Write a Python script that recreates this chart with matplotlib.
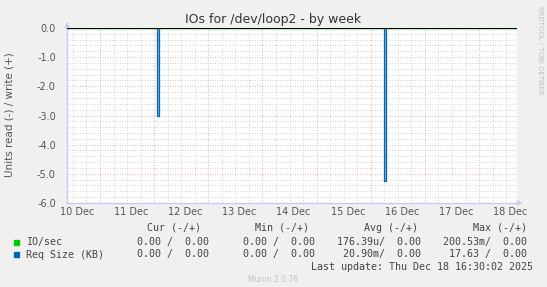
import numpy as np
import matplotlib
matplotlib.use("Agg")
import matplotlib.pyplot as plt

# time axis in days since 10 Dec 00:00
x_start, x_end = 0.39, 8.70
day_labels = ["10 Dec", "11 Dec", "12 Dec", "13 Dec", "14 Dec", "15 Dec", "16 Dec", "17 Dec", "18 Dec"]
y_ticks = [0.0, -1.0, -2.0, -3.0, -4.0, -5.0, -6.0]

# read side of Req Size (KB): short dips, zero elsewhere
spike_start = [2.06, 6.25]
spike_width = 0.035
spike_value = [-3.03, -5.26]

# IO/sec stays at zero over the week
io_times = [x_start, x_end]
io_values = [0.0, 0.0]

legend_names = ["IO/sec", "Req Size (KB)"]
legend_colors = ["#00cc00", "#0066b3"]
legend_headers = ["Cur (-/+)", "Min (-/+)", "Avg (-/+)", "Max (-/+)"]
legend_values = [
    ["0.00 /  0.00", "0.00 /  0.00", "176.39u/  0.00", "200.53m/  0.00"],
    ["0.00 /  0.00", "0.00 /  0.00", "20.90m/  0.00", "17.63 /  0.00"],
]
last_update = "Last update: Thu Dec 18 16:30:02 2025"

W, H = 547, 287
fig = plt.figure(figsize=(W / 100, H / 100), dpi=100, facecolor="#f0f0f0")
ax = fig.add_axes((67 / W, (H - 203) / H, 450 / W, 175 / H))
ax.set_facecolor("white")

# build step series for the req size line
t = [x_start]
v = [0.0]
for s, val in zip(spike_start, spike_value):
    t += [s, s, s + spike_width, s + spike_width]
    v += [0.0, val, val, 0.0]
t.append(x_end)
v.append(0.0)
t = np.array(t)
v = np.array(v)

ax.fill_between(t, v, 0, color="#8cbde6", lw=0, zorder=3)
ax.plot(t, v, color=legend_colors[1], lw=0.9, zorder=4)
ax.plot(io_times, io_values, color=legend_colors[0], lw=1.0, zorder=4)
ax.axhline(0, color="black", lw=1.4, zorder=5)

ax.set_xlim(x_start, x_end)
ax.set_ylim(-6.0, 0.0)

# grid
for d in np.arange(0.5, 8.75, 0.25):
    if abs(d - round(d)) > 1e-6:
        ax.axvline(d, color="#c8c8c8", lw=0.6, ls=(0, (1, 2)), zorder=1)
for d in range(1, 9):
    ax.axvline(d, color="#e49a9a", lw=0.6, ls=(0, (1, 2)), zorder=2)
for y in np.arange(-6.0, 0.01, 0.2):
    if abs(y - round(y)) > 1e-6:
        ax.axhline(y, color="#c8c8c8", lw=0.6, ls=(0, (1, 2)), zorder=1)
for y in y_ticks[1:-1]:
    ax.axhline(y, color="#e49a9a", lw=0.6, ls=(0, (1, 2)), zorder=2)

ax.set_xticks([i + 0.575 for i in range(len(day_labels))])
ax.set_xticklabels(day_labels)
ax.set_yticks(y_ticks)
ax.set_yticklabels(["%.1f" % y for y in y_ticks])
ax.tick_params(length=0, labelsize=7, labelcolor="#555555")
ax.tick_params(axis="y", pad=8)
ax.tick_params(axis="x", pad=3)

for side in ["top", "right"]:
    ax.spines[side].set_visible(False)
for side in ["left", "bottom"]:
    ax.spines[side].set_color("#c8c8f0")
    ax.spines[side].set_linewidth(1.0)
ax.annotate("", xy=(0, 1.05), xytext=(0, 1.0), xycoords="axes fraction",
            arrowprops=dict(arrowstyle="-|>", color="#c8c8f0", lw=0.8, mutation_scale=7))
ax.annotate("", xy=(1.012, 0), xytext=(1.0, 0), xycoords="axes fraction",
            arrowprops=dict(arrowstyle="-|>", color="#c8c8f0", lw=0.8, mutation_scale=7))

fig.text(10 / W, 1 - 115 / H, "Units read (-) / write (+)", rotation=90, ha="center", va="center",
         fontsize=7.5, color="#555555")

fig.text(273 / W, 1 - 19 / H, "IOs for /dev/loop2 - by week", ha="center", va="center",
         fontsize=9, color="#333333")
fig.text(540 / W, 1 - 6 / H, "RRDTOOL / TOBI OETIKER", rotation=270, ha="center", va="top",
         fontsize=5, color="#c0c0c0")

# legend block
mono = dict(family="DejaVu Sans Mono", fontsize=7.2, color="#444444")
header_right = [201, 309, 418, 527]
value_right = [209, 315, 421, 527]
for xr, head in zip(header_right, legend_headers):
    fig.text(xr / W, 1 - 228 / H, head, ha="right", va="center", **mono)
row_y = [242, 254.5]
for name, color, vals, y in zip(legend_names, legend_colors, legend_values, row_y):
    fig.patches.append(plt.Rectangle((14 / W, 1 - (y + 2.5) / H), 5 / W, 5 / H,
                                     transform=fig.transFigure, color=color, figure=fig))
    fig.text(26 / W, 1 - y / H, name, ha="left", va="center", **mono)
    for xr, val in zip(value_right, vals):
        fig.text(xr / W, 1 - y / H, val, ha="right", va="center", **mono)
fig.text(533 / W, 1 - 267 / H, last_update, ha="right", va="center", **mono)
fig.text(273 / W, 1 - 280 / H, "Munin 2.0.76", ha="center", va="center", fontsize=5.5, color="#c0c0c0")

fig.savefig("out.png", dpi=100, facecolor=fig.get_facecolor())
